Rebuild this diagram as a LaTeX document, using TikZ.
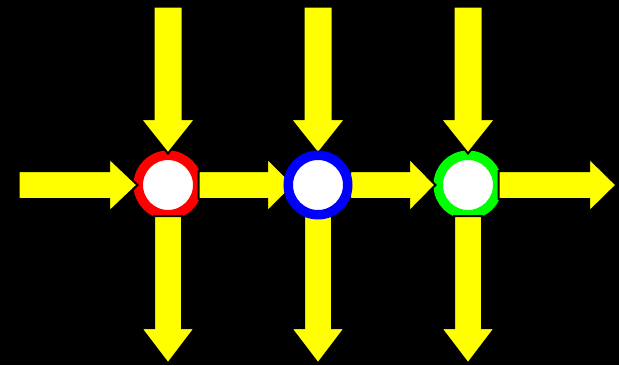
\documentclass[tikz,border=0pt]{standalone}
\definecolor{ringgreen}{RGB}{0,255,0}
\definecolor{ringred}{RGB}{255,0,0}
\definecolor{ringblue}{RGB}{0,0,255}
\definecolor{arrowyellow}{RGB}{255,255,0}
\begin{document}
\begin{tikzpicture}[x=1pt,y=-1pt,
  blockarrow/.style={fill=arrowyellow,draw=black,line width=2pt,line join=miter},
  ring/.style={circle,draw=#1,line width=9.5pt,fill=white,minimum size=59.5pt,inner sep=0pt}]
\fill[black] (0,0) rectangle (619,365);
\useasboundingbox (0,0) rectangle (619,365);

% junction rings under the arrows
\node[ring=ringred] (r) at (168,185) {};
\node[ring=ringgreen] (g) at (468,185) {};

% arrows coming down into each junction and leaving downwards
\foreach \cx in {168,318,468}{
  \draw[blockarrow] (\cx-14.5,6.5) -- (\cx+14.5,6.5) -- (\cx+14.5,119) -- (\cx+27.5,119)
    -- (\cx,153.5) -- (\cx-27.5,119) -- (\cx-14.5,119) -- cycle;
  \draw[blockarrow] (\cx-14,216) -- (\cx+14,216) -- (\cx+14,328) -- (\cx+27,328)
    -- (\cx,363.5) -- (\cx-27,328) -- (\cx-14,328) -- cycle;
}

% horizontal chain of arrows
\foreach \xa/\xb/\xt in {18.5/109/137.5, 198.5/267/294, 350/409/435.5, 498.5/589/616.5}{
  \draw[blockarrow] (\xa,171) -- (\xb,171) -- (\xb,158) -- (\xt,185)
    -- (\xb,212) -- (\xb,199) -- (\xa,199) -- cycle;
}

% middle junction sits on top of its arrows
\node[ring=ringblue] (b) at (318,185) {};
\end{tikzpicture}
\end{document}
